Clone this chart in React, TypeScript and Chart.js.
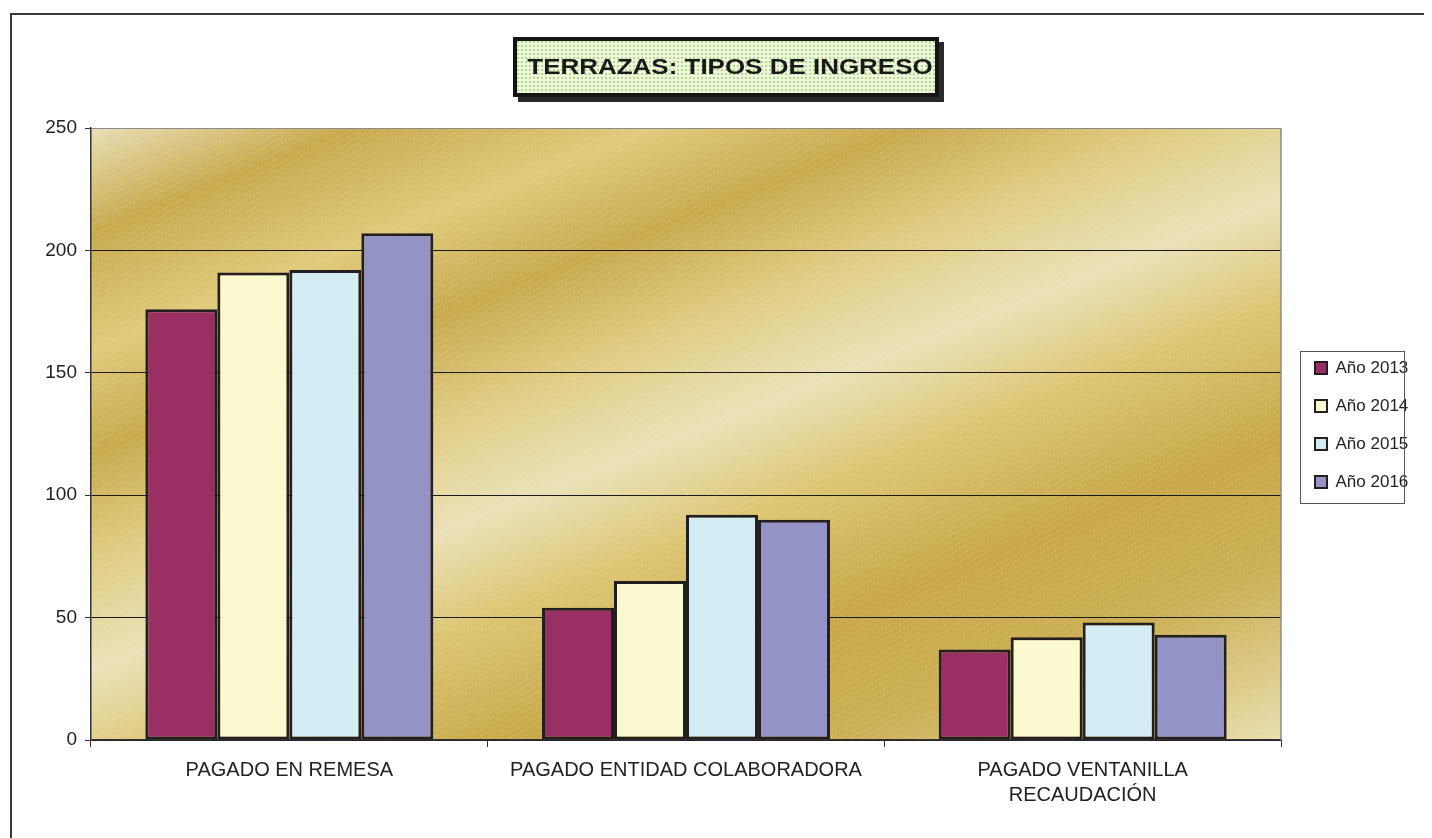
import React, { useEffect, useRef } from 'react';
import { Chart, registerables } from 'chart.js';

Chart.register(...registerables);

const FONT = "'Liberation Sans', Arial, sans-serif";

const categories: (string | string[])[] = [
  'PAGADO EN REMESA',
  'PAGADO ENTIDAD COLABORADORA',
  ['PAGADO VENTANILLA', 'RECAUDACIÓN'],
];
const seriesNames = ['Año 2013', 'Año 2014', 'Año 2015', 'Año 2016'];
const values2013 = [176, 54, 37];
const values2014 = [191, 65, 42];
const values2015 = [192, 92, 48];
const values2016 = [207, 90, 43];
const seriesColors = ['#9a2f63', '#fbf9d0', '#d4ecf3', '#9393c6'];
const yTicks = [0, 50, 100, 150, 200, 250];
const titleText = 'TERRAZAS: TIPOS DE INGRESO';

const W = 1424;
const H = 830;

export default function App() {
  const ref = useRef<HTMLCanvasElement>(null);

  useEffect(() => {
    const canvas = ref.current;
    if (!canvas) return;

    const bgPlugin = {
      id: 'bgPlugin',
      beforeLayout(chart: any) {
        const lg = chart.legend;
        if (lg && !lg.__patched) {
          const orig = lg.fit;
          lg.fit = function (this: any) {
            orig.call(this);
            this.width = 151;
          };
          lg.__patched = true;
        }
      },
      afterLayout(chart: any) {
        const lg = chart.legend;
        if (!lg || !lg.columnSizes || !lg.columnSizes.length) return;
        const pad = 21;
        const dx = 1307 - (lg.left + pad);
        lg.left += dx;
        lg.right += dx;
        const colH = lg.columnSizes[0].height;
        const curY = (lg.top + pad + lg.bottom - colH) / 2;
        const dy = 360 - 17 / 2 - curY;
        lg.top += dy;
        lg.bottom += dy;
      },
      beforeDraw(chart: any) {
        const ctx: CanvasRenderingContext2D = chart.ctx;
        const { left, top, right, bottom } = chart.chartArea;
        const w = right - left;
        const h = bottom - top;
        ctx.save();
        ctx.fillStyle = '#ffffff';
        ctx.fillRect(0, 0, W, H);

        // outer frame
        ctx.strokeStyle = '#3a3a3a';
        ctx.lineWidth = 2;
        ctx.beginPath();
        ctx.moveTo(3, H);
        ctx.lineTo(3, 6);
        ctx.lineTo(W, 6);
        ctx.stroke();

        // plot background gradient
        const g = ctx.createLinearGradient(left, top, left + 0.313 * w, top + 1.533 * h);
        g.addColorStop(0, '#e9dfb6');
        g.addColorStop(0.096, '#c9aa4e');
        g.addColorStop(0.205, '#e0ca7c');
        g.addColorStop(0.3, '#c9aa4e');
        g.addColorStop(0.4, '#e0cd84');
        g.addColorStop(0.5, '#eae1b8');
        g.addColorStop(0.6, '#dcc571');
        g.addColorStop(0.72, '#c8a84a');
        g.addColorStop(0.84, '#cdb056');
        g.addColorStop(1, '#e8deae');
        ctx.fillStyle = g;
        ctx.fillRect(left, top, w, h);

        // subtle dotted diagonal hatching
        ctx.beginPath();
        ctx.rect(left, top, w, h);
        ctx.clip();
        ctx.strokeStyle = 'rgba(255,252,235,0.22)';
        ctx.lineWidth = 1;
        ctx.setLineDash([2, 2]);
        ctx.beginPath();
        for (let x = left - 2 * h; x < right; x += 11) {
          ctx.moveTo(x, bottom);
          ctx.lineTo(x + 1.8 * h, top);
        }
        ctx.stroke();
        ctx.restore();

        // title box
        ctx.save();
        const bx = 505, by = 29, bw = 426, bh = 60;
        ctx.fillStyle = '#2a2a2a';
        ctx.fillRect(bx + 5, by + 5, bw, bh);
        const pc = document.createElement('canvas');
        pc.width = 4;
        pc.height = 4;
        const pctx = pc.getContext('2d')!;
        pctx.fillStyle = '#eef7dc';
        pctx.fillRect(0, 0, 4, 4);
        pctx.fillStyle = '#b3da8f';
        pctx.fillRect(1, 1, 2, 2);
        const pat = ctx.createPattern(pc, 'repeat');
        ctx.fillStyle = pat || '#e4f2cf';
        ctx.fillRect(bx, by, bw, bh);
        ctx.strokeStyle = '#141414';
        ctx.lineWidth = 4;
        ctx.strokeRect(bx + 2, by + 2, bw - 4, bh - 4);
        ctx.font = `bold 22px ${FONT}`;
        ctx.textAlign = 'center';
        ctx.textBaseline = 'alphabetic';
        ctx.translate(722, 66);
        ctx.scale(1.18, 1);
        ctx.fillStyle = '#1a1a1a';
        ctx.fillText(titleText, 0, 0);
        ctx.restore();
      },
      afterDraw(chart: any) {
        const ctx: CanvasRenderingContext2D = chart.ctx;
        const { top, right, bottom } = chart.chartArea;
        ctx.save();
        ctx.strokeStyle = '#8c8c8c';
        ctx.lineWidth = 1.5;
        ctx.beginPath();
        ctx.moveTo(right, top);
        ctx.lineTo(right, bottom);
        ctx.stroke();
        // legend frame
        ctx.strokeStyle = '#555555';
        ctx.lineWidth = 1;
        ctx.strokeRect(1292.5, 343.5, 104, 152);
        ctx.restore();
      },
    };

    const seriesValues = [values2013, values2014, values2015, values2016];

    const chart = new Chart(canvas, {
      type: 'bar',
      data: {
        labels: categories as any,
        datasets: seriesNames.map((name, i) => ({
          label: name,
          data: seriesValues[i],
          backgroundColor: seriesColors[i],
          borderColor: '#231f20',
          borderWidth: 3,
          borderSkipped: false,
          categoryPercentage: 0.726,
          barPercentage: 1,
        })),
      },
      options: {
        animation: false,
        responsive: false,
        devicePixelRatio: 1,
        layout: { padding: { top: 120, left: 0, right: 0, bottom: 0 } },
        plugins: {
          title: { display: false },
          tooltip: { enabled: false },
          legend: {
            display: true,
            position: 'right',
            labels: {
              boxWidth: 12,
              boxHeight: 12,
              padding: 21,
              color: '#222',
              font: { family: FONT, size: 17 },
              generateLabels: (c: any) =>
                (Chart.defaults.plugins.legend.labels as any)
                  .generateLabels(c)
                  .map((l: any) => ({ ...l, lineWidth: 2 })),
            },
          },
        },
        scales: {
          x: {
            grid: {
              display: true,
              drawOnChartArea: false,
              drawTicks: true,
              tickLength: 7,
              color: '#333',
              offset: true,
            },
            border: { display: true, color: '#333', width: 1.5 },
            ticks: {
              color: '#222',
              font: { family: FONT, size: 20, lineHeight: 1.25 },
              padding: 11,
              maxRotation: 0,
              autoSkip: false,
            },
            afterFit: (s: any) => {
              s.height = 98;
            },
          },
          y: {
            min: 0,
            max: 250,
            afterBuildTicks: (s: any) => {
              s.ticks = yTicks.map((v) => ({ value: v }));
            },
            ticks: {
              color: '#222',
              font: { family: FONT, size: 19 },
              padding: 8,
            },
            grid: {
              color: (c: any) => (c.tick && c.tick.value === 250 ? '#8c8c8c' : '#1a1a1a'),
              lineWidth: 1,
              tickLength: 6,
              tickColor: '#333',
            },
            border: { display: true, color: '#333', width: 1.5 },
            afterFit: (s: any) => {
              s.width = 83;
            },
          },
        },
      } as any,
      plugins: [bgPlugin],
    });

    return () => chart.destroy();
  }, []);

  return (
    <div style={{ width: W, height: H }}>
      <canvas ref={ref} width={W} height={H} style={{ display: 'block', width: W, height: H }} />
    </div>
  );
}
